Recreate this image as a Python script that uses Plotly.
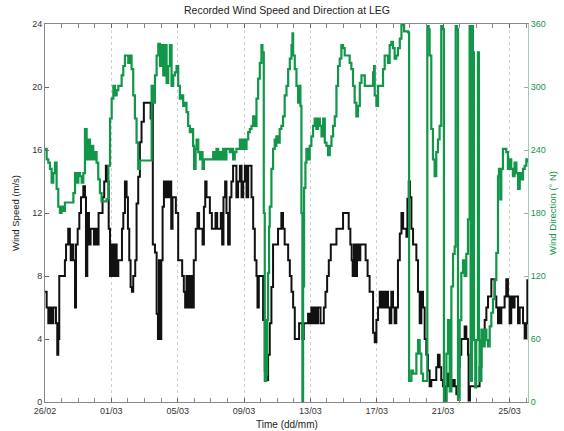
import pandas as pd
import plotly.graph_objects as go

# Record start (26 Feb 2008, 00:00); times below are offsets in days
START = pd.Timestamp("2008-02-26")

# Wind speed (m/s)
speed_day = [
    0.00, 0.10, 0.20, 0.30, 0.40, 0.50, 0.60, 0.66, 0.74, 0.80, 0.86, 1.10, 1.20, 1.27, 1.40,
    1.50, 1.55, 1.65, 1.71, 1.81, 1.87, 1.97, 2.07, 2.17, 2.31, 2.41, 2.47, 2.55, 2.65, 2.75,
    2.85, 2.95, 3.03, 3.15, 3.23, 3.35, 3.47, 3.57, 3.67, 3.75, 3.84, 3.92, 4.02, 4.12, 4.22,
    4.32, 4.42, 4.56, 4.64, 4.72, 4.82, 4.92, 5.00, 5.08, 5.16, 5.24, 5.32, 5.44, 5.52, 5.62,
    5.72, 5.82, 5.96, 6.29, 6.37, 6.45, 6.50, 6.63, 6.73, 6.81, 6.87, 6.93, 7.01, 7.09, 7.17,
    7.25, 7.33, 7.43, 7.53, 7.61, 7.69, 7.79, 7.89, 8.03, 8.17, 8.27, 8.37, 8.45, 8.53, 8.63,
    8.73, 8.85, 8.97, 9.09, 9.19, 9.29, 9.40, 9.50, 9.58, 9.66, 9.74, 9.86, 9.94, 10.06, 10.18,
    10.28, 10.38, 10.50, 10.60, 10.68, 10.76, 10.86, 10.94, 11.04, 11.14, 11.24, 11.34, 11.44, 11.54, 11.64,
    11.75, 11.85, 11.95, 12.05, 12.15, 12.25, 12.35, 12.45, 12.55, 12.65, 12.75, 12.81, 12.89, 13.05, 13.15,
    13.25, 13.35, 13.45, 13.55, 13.65, 13.75, 13.95, 14.05, 14.15, 14.25, 14.35, 14.45, 14.56, 14.66, 14.76,
    14.86, 14.96, 15.06, 15.26, 15.32, 15.46, 15.52, 15.60, 15.86, 15.96, 16.06, 16.16, 16.26, 16.36, 16.46,
    16.61, 16.73, 16.81, 16.91, 17.01, 17.11, 17.23, 17.47, 17.57, 17.87, 17.97, 18.21, 18.31, 18.41, 18.49,
    18.55, 18.63, 18.71, 18.81, 18.91, 19.01, 19.21, 19.33, 19.45, 19.57, 19.68, 19.78, 19.88, 19.98, 20.08,
    20.18, 20.28, 20.38, 20.48, 20.58, 20.68, 20.78, 20.88, 20.98, 21.08, 21.18, 21.28, 21.39, 21.49, 21.59,
    21.73, 21.79, 21.85, 21.93, 22.00, 22.09, 22.19, 22.29, 22.39, 22.49, 22.59, 22.69, 22.79, 22.89, 22.99,
    23.09, 23.19, 23.29, 23.49, 23.59, 23.69, 23.79, 23.89, 23.99, 24.10, 24.20, 24.30, 24.40, 24.50, 24.60,
    24.70, 24.80, 24.90, 25.00, 25.10, 25.20, 25.30, 25.40, 25.50, 25.54, 25.62, 25.90, 26.10, 26.20, 26.31,
    26.41, 26.51, 26.61, 26.71, 26.81, 26.91, 27.01, 27.11, 27.21, 27.31, 27.37, 27.45, 27.51, 27.61, 27.71,
    27.81, 27.91, 28.01, 28.11, 28.21, 28.31, 28.42, 28.52, 28.62, 28.72, 28.82, 28.92, 29.02, 29.08,
]
speed_ms = [
    7, 6, 5, 6, 5, 6, 6, 5, 3, 4, 8, 8, 9, 10, 11,
    10, 9, 10, 9, 6, 10, 11, 12, 13, 13.7, 13, 8, 12, 10, 11,
    11, 10, 11, 10, 12, 12, 13, 14, 15, 14, 11, 8, 10, 8, 10,
    8, 9, 9, 11, 12, 14, 13, 11, 9, 7.3, 7, 8, 9, 12.6, 14.3,
    16.5, 17.8, 19, 19, 18, 19, 10, 9.5, 5.6, 4, 9, 4, 9, 12.4, 14,
    13, 14, 13, 14, 11, 13, 13, 12, 9, 9, 8, 7, 6, 8, 6,
    8, 6, 9, 11, 12, 11, 11, 10, 12.4, 14, 13, 13, 12, 11, 11,
    12, 11, 11, 12, 10, 13, 14, 12, 10, 13, 14, 15, 15, 13, 14,
    15, 13, 14, 15, 13, 15, 15, 13, 11, 9, 8, 6, 8, 8, 5.2,
    2, 1.4, 3, 5, 7.3, 10, 10, 11, 11, 12, 11, 10, 10, 9, 8,
    7, 6, 4, 4, 5, 5, 4, 5, 5.6, 5, 6, 5, 6, 5, 6,
    5, 5, 6, 7, 8, 9, 10, 10, 11, 11, 12, 12, 11, 10, 9,
    8, 10, 8, 10, 9, 10, 10, 9, 8, 7, 7, 4.4, 3.8, 5.2, 6,
    7, 6, 7, 6, 7, 6, 5, 7, 6, 5, 6, 9, 10.7, 12, 11,
    11, 10.5, 12.9, 14, 13, 11, 10, 10, 9, 7, 5, 7, 6, 4, 3,
    2, 1, 1.4, 1.4, 2.2, 3, 2.2, 1.4, 1, 0.1, 1, 1.8, 1.4, 1, 1.4,
    1, 0.5, 2.2, 3, 4, 4, 4.8, 4, 3, 0.1, 1, 1, 1, 2.2, 3.9,
    4.3, 5.2, 6, 6.7, 6.7, 7.8, 7.8, 6.7, 6, 5, 6, 5, 6, 6, 6.7,
    7.8, 6.7, 5, 6.7, 6, 6.7, 6.7, 5, 6, 6, 5, 4, 5, 7.8,
]

# Wind direction (degrees from north)
dir_day = [
    0.00, 0.10, 0.20, 0.30, 0.40, 0.50, 0.60, 0.70, 0.80, 0.90, 1.00, 1.10, 1.20, 1.60, 1.71,
    1.81, 1.91, 2.01, 2.11, 2.21, 2.31, 2.41, 2.51, 2.61, 2.71, 2.81, 2.91, 3.01, 3.11, 3.21,
    3.31, 3.41, 3.61, 3.71, 3.82, 3.92, 4.02, 4.12, 4.22, 4.32, 4.42, 4.52, 4.62, 4.72, 4.82,
    4.92, 5.02, 5.12, 5.22, 5.32, 5.42, 5.52, 5.62, 5.72, 6.33, 6.43, 6.53, 6.63, 6.73, 6.83,
    6.93, 7.03, 7.13, 7.23, 7.33, 7.43, 7.53, 7.63, 7.73, 7.83, 7.93, 8.03, 8.13, 8.23, 8.33,
    8.43, 8.53, 8.63, 8.73, 8.83, 8.93, 8.99, 9.08, 9.14, 9.24, 9.34, 9.44, 9.50, 9.58, 10.04,
    10.14, 10.24, 10.34, 10.44, 10.54, 10.64, 10.74, 10.84, 10.94, 11.14, 11.24, 11.34, 11.44, 11.54, 11.75,
    11.85, 11.95, 12.05, 12.15, 12.25, 12.35, 12.45, 12.55, 12.65, 12.75, 12.85, 12.95, 13.05, 13.11, 13.19,
    13.25, 13.35, 13.39, 13.45, 13.51, 13.55, 13.65, 13.75, 13.85, 13.91, 13.95, 14.05, 14.15, 14.25, 14.35,
    14.45, 14.56, 14.66, 14.76, 14.86, 14.92, 14.96, 15.06, 15.16, 15.26, 15.32, 15.40, 15.46, 15.52, 15.56,
    15.62, 15.70, 15.76, 15.86, 15.96, 16.06, 16.16, 16.26, 16.36, 16.46, 16.57, 16.67, 16.77, 16.87, 16.97,
    17.07, 17.17, 17.27, 17.37, 17.47, 17.57, 17.67, 17.77, 17.87, 17.97, 18.07, 18.27, 18.37, 18.47, 18.57,
    18.67, 18.77, 18.87, 18.98, 19.08, 19.18, 19.28, 19.68, 19.78, 19.84, 19.88, 19.98, 20.08, 20.28, 20.38,
    20.48, 20.58, 20.68, 20.78, 20.88, 20.98, 21.08, 21.18, 21.28, 21.39, 21.49, 21.59, 21.65, 21.89, 21.95,
    22.09, 22.19, 22.29, 22.39, 22.49, 22.59, 22.69, 22.79, 22.99, 23.05, 23.13, 23.19, 23.29, 23.39, 23.49,
    23.59, 23.69, 23.79, 23.89, 23.99, 24.05, 24.20, 24.30, 24.40, 24.50, 24.60, 24.70, 24.76, 24.84, 24.90,
    25.00, 25.10, 25.20, 25.30, 25.40, 25.50, 25.60, 25.66, 25.74, 25.80, 25.86, 25.94, 26.00, 26.10, 26.16,
    26.20, 26.31, 26.41, 26.51, 26.61, 26.71, 26.81, 26.91, 27.01, 27.11, 27.21, 27.31, 27.37, 27.45, 27.51,
    27.61, 27.71, 27.81, 27.91, 28.01, 28.11, 28.21, 28.31, 28.42, 28.52, 28.62, 28.72, 28.82, 28.92, 29.02,
    29.12,
]
dir_deg = [
    241, 231, 228, 222, 209, 218, 228, 203, 186, 180, 186, 182, 190, 190, 199,
    218, 209, 218, 215, 209, 218, 260, 231, 250, 231, 244, 231, 238, 228, 212,
    199, 191, 191, 193, 225, 270, 289, 301, 292, 297, 301, 301, 311, 320, 330,
    330, 323, 330, 317, 292, 270, 247, 222, 230, 230, 301, 285, 311, 330, 341,
    320, 340, 311, 340, 304, 320, 340, 301, 311, 314, 320, 301, 289, 292, 282,
    285, 276, 263, 257, 260, 244, 222, 241, 250, 238, 231, 238, 222, 231, 231,
    238, 231, 241, 231, 238, 231, 241, 231, 241, 238, 241, 231, 238, 241, 250,
    241, 250, 241, 250, 257, 260, 263, 272, 263, 289, 308, 323, 340, 333, 180,
    20, 26, 78, 123, 167, 186, 222, 241, 250, 244, 253, 247, 260, 263, 272,
    292, 301, 317, 327, 340, 351, 330, 317, 301, 285, 301, 282, 180, 0, 110,
    204, 228, 241, 231, 244, 253, 263, 270, 260, 270, 263, 253, 270, 247, 244,
    235, 244, 253, 263, 272, 301, 320, 327, 340, 337, 330, 330, 323, 317, 301,
    285, 272, 282, 304, 311, 311, 301, 301, 314, 320, 292, 282, 301, 301, 317,
    330, 330, 323, 340, 343, 337, 327, 330, 337, 346, 359, 359, 353, 352, 20,
    30, 27, 27, 46, 59, 46, 27, 20, 20, 358, 355, 330, 260, 231, 215,
    238, 250, 263, 358, 355, 0, 46, 78, 10, 110, 141, 148, 358, 355, 2,
    78, 123, 135, 120, 141, 174, 358, 20, 358, 333, 59, 14, 59, 333, 59,
    20, 69, 53, 69, 59, 53, 72, 85, 98, 116, 142, 215, 222, 193, 222,
    241, 241, 238, 222, 231, 222, 215, 228, 218, 203, 218, 212, 222, 225, 231,
    228,
]

# Date tick marks every four days
tick_day = [0, 4, 8, 12, 16, 20, 24, 28]
tick_text = ["26/02", "01/03", "05/03", "09/03", "13/03", "17/03", "21/03", "25/03"]

speed_t = [START + pd.Timedelta(days=d) for d in speed_day]
dir_t = [START + pd.Timedelta(days=d) for d in dir_day]
tick_t = [START + pd.Timedelta(days=d) for d in tick_day]
x_end = START + pd.Timedelta(days=29.12)

GREEN = "#12964a"
FONT = "Liberation Sans, Arial, Helvetica, sans-serif"

fig = go.Figure()
fig.add_trace(go.Scatter(
    x=speed_t, y=speed_ms, mode="lines", line=dict(color="#111111", width=2, shape="hv"),
    name="Wind Speed", yaxis="y",
))
fig.add_trace(go.Scatter(
    x=dir_t, y=dir_deg, mode="lines", line=dict(color=GREEN, width=2.2, shape="hv"),
    name="Wind Direction", yaxis="y2",
))

fig.update_layout(
    width=564, height=431,
    margin=dict(l=45, r=36, t=24, b=29),
    paper_bgcolor="white", plot_bgcolor="white",
    showlegend=False,
    font=dict(family=FONT, size=9, color="#333333"),
    xaxis=dict(
        range=[START, x_end], tickvals=tick_t, ticktext=tick_text,
        ticks="inside", ticklen=4, tickcolor="#666666",
        minor=dict(dtick=86400000, ticks="inside", ticklen=2, tickcolor="#888888", showgrid=False),
        showgrid=True, gridcolor="#cfcfcf", griddash="dot", gridwidth=1,
        showline=True, linecolor="#888888", linewidth=1, mirror="allticks",
        zeroline=False, tickfont=dict(size=9, color="#333333"),
    ),
    yaxis=dict(
        range=[0, 24], tickvals=[0, 4, 8, 12, 16, 20, 24],
        ticks="inside", ticklen=4, tickcolor="#666666",
        showgrid=False, zeroline=False,
        showline=True, linecolor="#888888", linewidth=1,
        tickfont=dict(size=9, color="#333333"),
    ),
    yaxis2=dict(
        range=[0, 360], tickvals=[0, 60, 120, 180, 240, 300, 360],
        overlaying="y", side="right",
        ticks="inside", ticklen=4, tickcolor="#7fbf95",
        showgrid=False, zeroline=False,
        showline=True, linecolor="#9fcfaf", linewidth=1,
        tickfont=dict(size=9, color=GREEN),
    ),
    annotations=[
        dict(text="Recorded Wind Speed and Direction at LEG", xref="paper", yref="paper",
             x=0.5, y=1 + 14 / 378, xanchor="center", yanchor="middle", showarrow=False,
             font=dict(size=10.5, color="#222222")),
        dict(text="Time (dd/mm)", xref="paper", yref="paper",
             x=0.5, y=-22 / 378, xanchor="center", yanchor="middle", showarrow=False,
             font=dict(size=10, color="#222222")),
        dict(text="Wind Speed (m/s)", xref="paper", yref="paper", textangle=-90,
             x=-30 / 483, y=0.5, xanchor="center", yanchor="middle", showarrow=False,
             font=dict(size=9.5, color="#222222")),
        dict(text="Wind Direction (° N)", xref="paper", yref="paper", textangle=-90,
             x=1 + 24 / 483, y=0.5, xanchor="center", yanchor="middle", showarrow=False,
             font=dict(size=9.5, color=GREEN)),
    ],
)

fig.write_html("out.html")
